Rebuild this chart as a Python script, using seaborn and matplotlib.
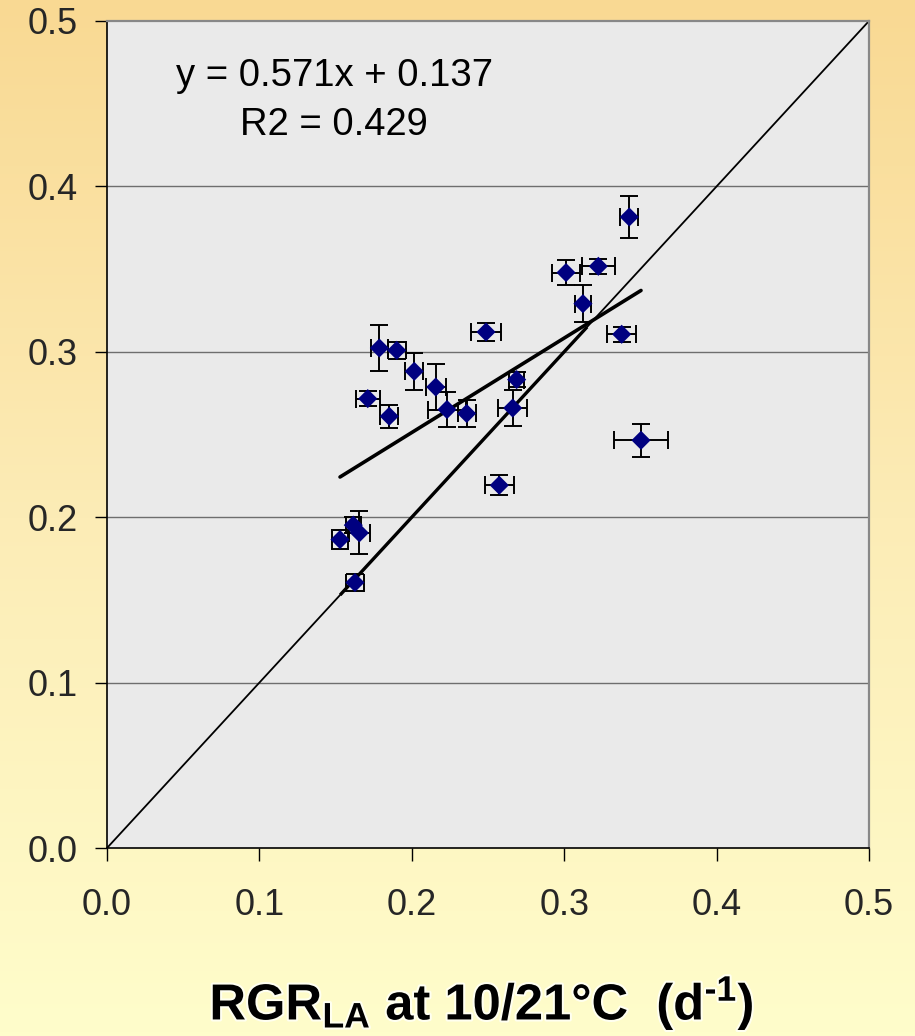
import numpy as np
import pandas as pd
import matplotlib
matplotlib.use("Agg")
import matplotlib.pyplot as plt
import matplotlib.patheffects as pe
from matplotlib.colors import LinearSegmentedColormap
import seaborn as sns

# Leaf-area relative growth rate: x at 10/21 °C, y on the other axis, with SE
rgr_x = [0.3427, 0.3012, 0.3224, 0.3123, 0.2487, 0.3377, 0.1787, 0.1901,
         0.2016, 0.2157, 0.1711, 0.1852, 0.2231, 0.2360, 0.2688, 0.2662,
         0.3504, 0.2574, 0.1529, 0.1616, 0.1656, 0.1627]
rgr_y = [0.3815, 0.3479, 0.3517, 0.3291, 0.3120, 0.3106, 0.3023, 0.3009,
         0.2882, 0.2787, 0.2717, 0.2610, 0.2651, 0.2627, 0.2832, 0.2660,
         0.2465, 0.2193, 0.1865, 0.1952, 0.1905, 0.1605]
err_x = [0.006, 0.009, 0.011, 0.005, 0.0096, 0.0095, 0.0055, 0.006,
         0.006, 0.0065, 0.008, 0.006, 0.0125, 0.006, 0.005, 0.0095,
         0.0175, 0.0094, 0.0052, 0.005, 0.007, 0.0057]
err_y = [0.0125, 0.0075, 0.0045, 0.011, 0.0055, 0.0045, 0.0138, 0.005,
         0.011, 0.014, 0.0046, 0.0068, 0.0105, 0.008, 0.0047, 0.011,
         0.010, 0.006, 0.006, 0.005, 0.013, 0.0054]

slope = 0.571
intercept = 0.137
r2 = 0.429

# stretch of the 1:1 line that is emphasised
one_to_one_span = [0.153, 0.315]

ticks = [0.0, 0.1, 0.2, 0.3, 0.4, 0.5]
tick_labels = ["0.0", "0.1", "0.2", "0.3", "0.4", "0.5"]

df = pd.DataFrame({"x": rgr_x, "y": rgr_y, "ex": err_x, "ey": err_y})

sns.set_style("white")
plt.rcParams["font.family"] = ["Liberation Sans", "DejaVu Sans"]
plt.rcParams["mathtext.fontset"] = "custom"
plt.rcParams["mathtext.rm"] = "Liberation Sans:bold"
plt.rcParams["mathtext.bf"] = "Liberation Sans:bold"
plt.rcParams["mathtext.it"] = "Liberation Sans:bold"

fig = plt.figure(figsize=(9.15, 10.36), dpi=100)

# vertical warm gradient behind everything
bg = fig.add_axes([0, 0, 1, 1], zorder=-10)
grad_cmap = LinearSegmentedColormap.from_list(
    "warm", ["#FFFDCB", "#FCECB6", "#F9D993"])
bg.imshow(np.linspace(0, 1, 256).reshape(-1, 1), aspect="auto",
          cmap=grad_cmap, origin="lower", extent=[0, 1, 0, 1])
bg.set_axis_off()

ax = fig.add_axes([107 / 915, 188 / 1036, 762 / 915, 827 / 1036])
ax.set_facecolor("#EAEAEA")
ax.set_xlim(0, 0.5)
ax.set_ylim(0, 0.5)

# horizontal grid
for t in ticks[1:-1]:
    ax.axhline(t, color="#6E6E6E", lw=1.0, zorder=1)

# 1:1 line, with a heavier stretch
ax.plot([0, 0.5], [0, 0.5], color="black", lw=1.3, zorder=2)
ax.plot(one_to_one_span, one_to_one_span, color="black", lw=2.4, zorder=2,
        solid_capstyle="butt")

# fitted trend line over the data range
xf = np.array([min(rgr_x), max(rgr_x)])
ax.plot(xf, slope * xf + intercept, color="black", lw=2.6, zorder=3,
        solid_capstyle="round")

ax.errorbar(df["x"], df["y"], xerr=df["ex"], yerr=df["ey"], fmt="none",
            ecolor="black", elinewidth=1.4, capsize=6.5, capthick=1.4,
            zorder=4)
sns.scatterplot(data=df, x="x", y="y", marker="D", s=95, color="#000080",
                edgecolor="none", linewidth=0, ax=ax, zorder=5)

ax.text(0.149, 0.452, f"y = {slope}x + {intercept}\nR2 = {r2}",
        ha="center", va="center", fontsize=27.5, linespacing=1.44,
        multialignment="center", color="black")

ax.set_xticks(ticks)
ax.set_yticks(ticks)
ax.set_xticklabels(tick_labels)
ax.set_yticklabels(tick_labels)
ax.tick_params(axis="both", which="major", direction="out", length=9,
               width=1.0, color="black", labelsize=26, left=True,
               bottom=True)
ax.tick_params(axis="x", pad=20)
ax.tick_params(axis="y", pad=12)
ax.set_xlabel("")
ax.set_ylabel("")

for side in ["left", "bottom"]:
    ax.spines[side].set_color("black")
    ax.spines[side].set_linewidth(1.2)
for side in ["top", "right"]:
    ax.spines[side].set_color("#888888")
    ax.spines[side].set_linewidth(1.6)

fig.text(482 / 915, 1 - 1003 / 1036,
         r"RGR$_{\mathrm{LA}}$ at 10/21°C  (d$^{\text{-1}}$)",
         ha="center", va="center", fontsize=36.5, fontweight="bold",
         color="black",
         path_effects=[pe.withStroke(linewidth=3, foreground="#FFFFF0")])

fig.savefig("out.png", dpi=100)
